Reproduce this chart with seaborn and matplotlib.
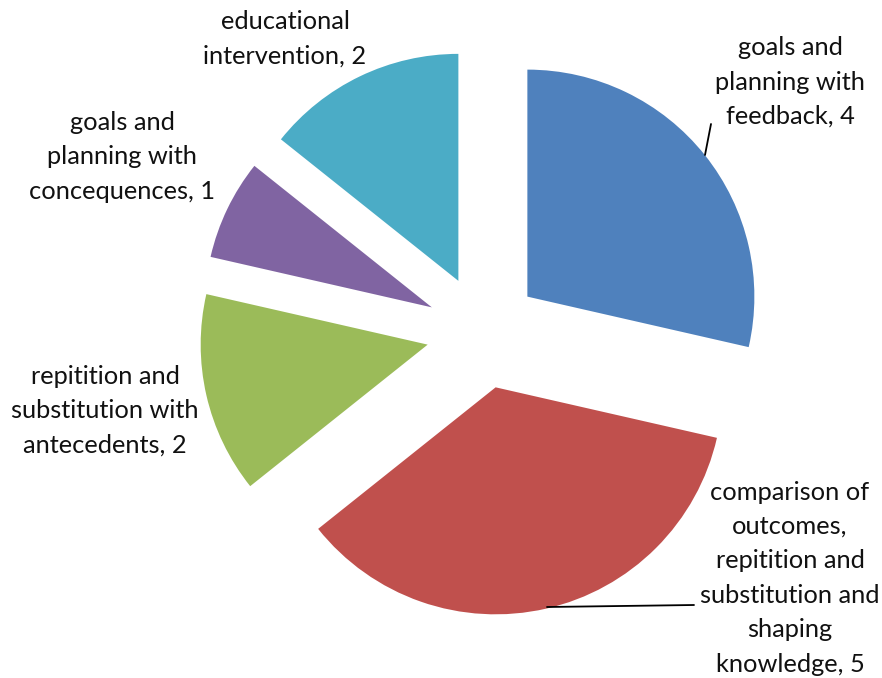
import numpy as np
import matplotlib
matplotlib.use("Agg")
import matplotlib.pyplot as plt
import seaborn as sns

sns.set_theme(style="white")
plt.rcParams['font.family'] = ['Lato', 'DejaVu Sans']

categories = [
    "goals and\nplanning with\nfeedback",
    "comparison of\noutcomes,\nrepitition and\nsubstitution and\nshaping\nknowledge",
    "repitition and\nsubstitution with\nantecedents",
    "goals and\nplanning with\nconcequences",
    "educational\nintervention",
]
values = [4, 5, 2, 1, 2]
colors = ["#4F81BD", "#C0504D", "#9BBB59", "#8064A2", "#4BACC6"]
explode = [0.25] * 5

fig = plt.figure(figsize=(8.82, 6.78), dpi=100)
ax = fig.add_axes([0, 0, 1, 1])
R = 227.0
cx, cy = 483.0, 332.0

wedges, _ = ax.pie(values, colors=colors, startangle=90, counterclock=False,
                   explode=explode, radius=1.0, wedgeprops=dict(linewidth=0),
                   frame=True)
ax.set_xlim(-cx / R, (882 - cx) / R)
ax.set_ylim(-(678 - cy) / R, cy / R)
ax.set_aspect('equal')
ax.axis('off')

def px(x, y):
    return ((x - cx) / R, (cy - y) / R)

# label anchor positions (pixel centres) and leader lines
label_pos = [(790, 82), (790, 578), (105, 411), (122, 157), (285, 39)]
leaders = {0: ((705, 155), (711, 124)), 1: ((547, 607), (694, 605))}

for i, (lab, v) in enumerate(zip(categories, values)):
    x, y = px(*label_pos[i])
    ax.text(x, y, f"{lab}, {v}", ha="center", va="center", fontsize=18.3,
            linespacing=1.6, color="#111111")
    if i in leaders:
        (x0, y0), (x1, y1) = leaders[i]
        a = px(x0, y0); b = px(x1, y1)
        ax.plot([a[0], b[0]], [a[1], b[1]], color="black", lw=1.3)

fig.savefig("out.png", dpi=100)
